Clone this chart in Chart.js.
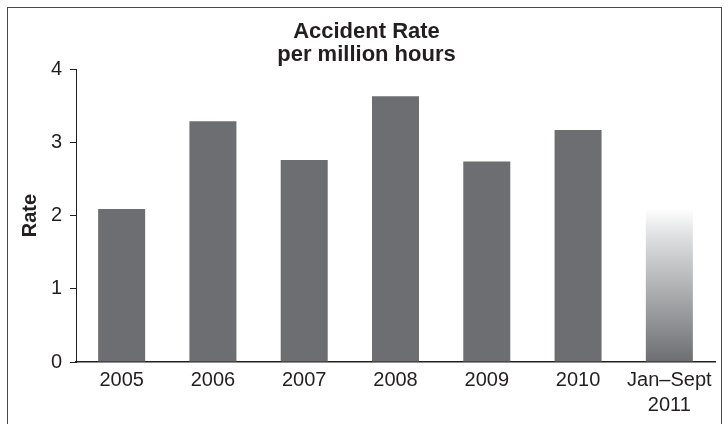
<!DOCTYPE html>
<html>
<head>
<meta charset="utf-8">
<script src="https://cdn.jsdelivr.net/npm/chart.js@4.4.1/dist/chart.umd.min.js"></script>
<style>
html,body{margin:0;padding:0;background:#fff;}
#wrap{position:relative;width:728px;height:424px;}
</style>
</head>
<body>
<div id="wrap"><canvas id="c" width="728" height="424"></canvas></div>
<script>
const categories = ["2005", "2006", "2007", "2008", "2009", "2010", ["Jan\u2013Sept", "2011"]];
const rates = [2.09, 3.29, 2.76, 3.63, 2.74, 3.17, 2.10];
const yTicks = [0, 1, 2, 3, 4];
const titleLines = ["Accident Rate", "per million hours"];

const BAR = "#6d6e71";
const INK = "#231f20";
const FONT = "'Liberation Sans', Arial, Helvetica, sans-serif";

function barColor(ctx) {
  if (ctx.type !== "data") return BAR;
  if (ctx.dataIndex !== rates.length - 1) return BAR;
  const chart = ctx.chart;
  const ys = chart.scales.y;
  if (!ys) return BAR;
  const top = ys.getPixelForValue(rates[ctx.dataIndex]);
  const bot = ys.getPixelForValue(0);
  const g = chart.ctx.createLinearGradient(0, top, 0, bot);
  g.addColorStop(0, "#ffffff");
  g.addColorStop(0.2, "#dcdddf");
  g.addColorStop(1, BAR);
  return g;
}

const frame = {
  id: "frame",
  beforeDraw(chart) {
    const c = chart.ctx;
    c.save();
    c.fillStyle = "#fff";
    c.fillRect(0, 0, chart.width, chart.height);
    c.strokeStyle = "#4a4a4a";
    c.lineWidth = 1;
    c.strokeRect(7.5, 7.5, 714, 430);
    c.restore();
  }
};

new Chart(document.getElementById("c"), {
  type: "bar",
  data: {
    labels: categories,
    datasets: [{
      data: rates,
      backgroundColor: barColor,
      borderWidth: 0,
      categoryPercentage: 1,
      barPercentage: 0.515
    }]
  },
  options: {
    responsive: false,
    animation: false,
    devicePixelRatio: 1,
    layout: { padding: { left: 18, right: 13, top: 0, bottom: 0 } },
    plugins: {
      legend: { display: false },
      tooltip: { enabled: false },
      title: {
        display: true,
        text: titleLines,
        color: INK,
        font: { family: FONT, size: 22, weight: "bold", lineHeight: 1.05 },
        padding: { top: 20, bottom: 3 }
      }
    },
    scales: {
      x: {
        grid: { display: false, drawTicks: false },
        border: { display: true, color: INK, width: 1.5 },
        ticks: {
          color: INK,
          padding: 6,
          maxRotation: 0,
          autoSkip: false,
          font: { family: FONT, size: 20, lineHeight: 1.25 }
        }
      },
      y: {
        min: 0,
        max: 4,
        afterBuildTicks(scale) { scale.ticks = yTicks.map(v => ({ value: v })); },
        afterFit(scale) { scale.width = 58; },
        grid: { drawOnChartArea: false, drawTicks: true, tickLength: 6, color: INK, width: 1 },
        border: { display: true, color: INK, width: 1 },
        title: {
          display: true,
          text: "Rate",
          color: INK,
          font: { family: FONT, size: 20, weight: "bold" },
          padding: { top: 0, bottom: 6 }
        },
        ticks: {
          color: INK,
          padding: 8,
          font: { family: FONT, size: 20 }
        }
      }
    }
  },
  plugins: [frame]
});
</script>
</body>
</html>
